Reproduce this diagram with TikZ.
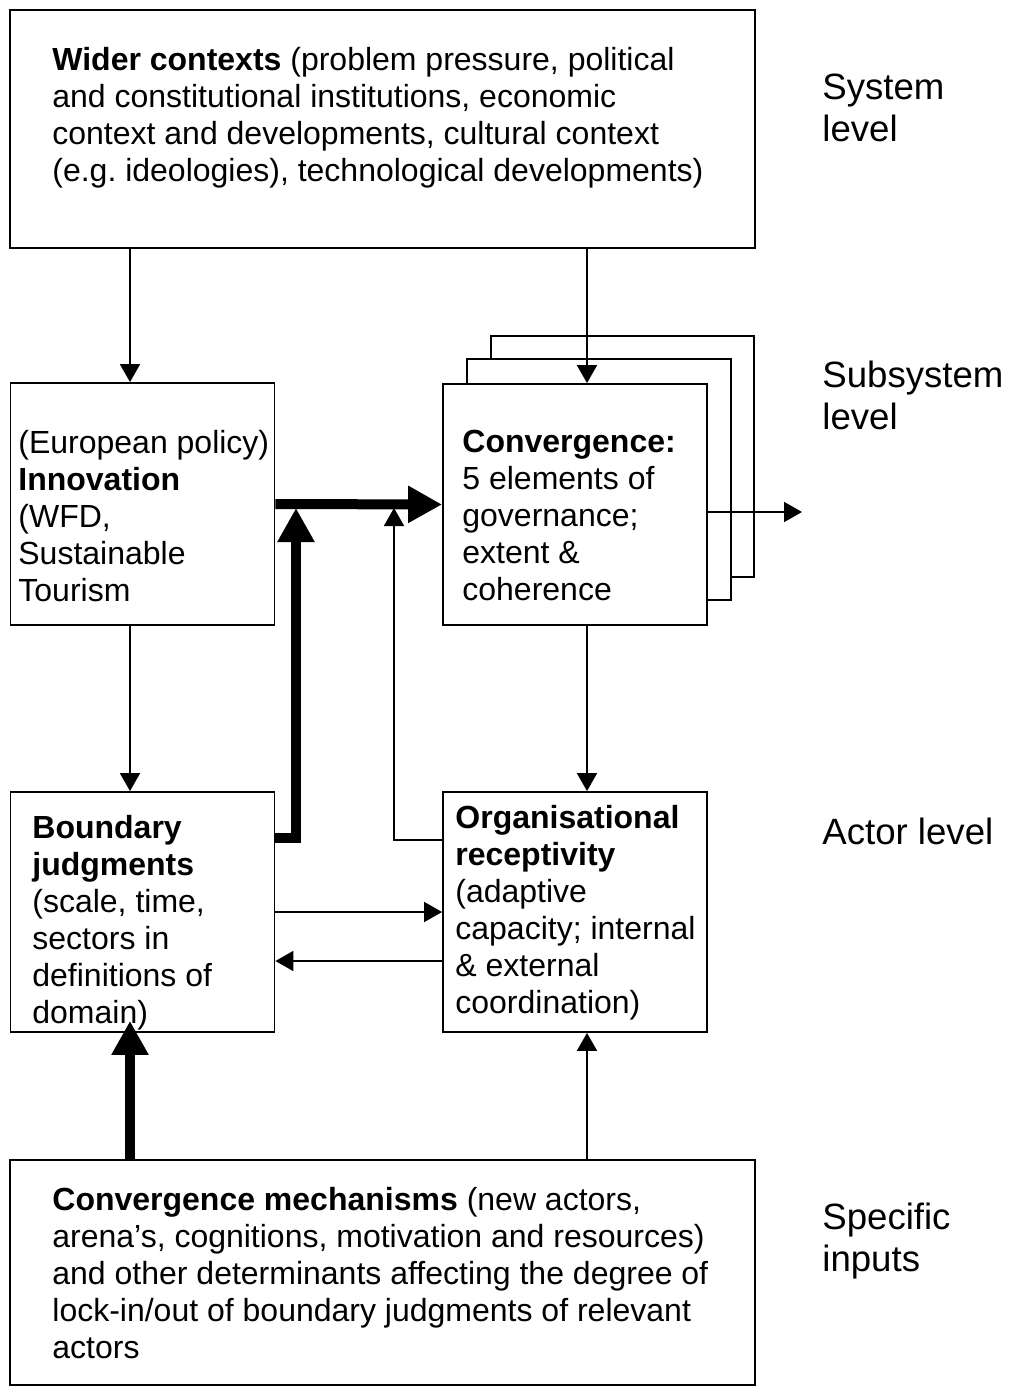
\documentclass[tikz,border=0pt]{standalone}
\usepackage{fontspec}
\setmainfont{Liberation Sans}
\usepackage{tikz}
\usetikzlibrary{arrows.meta}
\tikzset{
	box/.style={draw,line width=0.9pt,fill=white,inner sep=0pt},
	boxtext/.style={anchor=north west,inner sep=0pt,align=left,
		font=\fontsize{16}{18.5}\selectfont},
	levelnote/.style={anchor=north west,inner sep=0pt,align=left,
		font=\fontsize{18.3}{21}\selectfont},
	thin arrow/.style={line width=0.9pt,-{Triangle[length=9pt,width=10pt]}},
	thick arrow/.style={line width=5pt,-{Triangle[length=17pt,width=17.5pt]}}
}

\begin{document}
\begin{tikzpicture}[x=0.5pt,y=-0.5pt]
	\useasboundingbox (0,0) rectangle (1009,1396);
	% boxes
	\node [box,minimum width=372.5pt,minimum height=119pt] (wider) at (382.5,129) {};
	\node [box,minimum width=132pt,minimum height=121pt] (inno) at (142.5,504) {};
	\node [box,minimum width=131.5pt,minimum height=120.5pt] (conv3) at (622.5,456.5) {};
	\node [box,minimum width=132pt,minimum height=120.5pt] (conv2) at (599,479.5) {};
	\node [box,minimum width=132pt,minimum height=120.5pt] (conv) at (575,504.5) {};
	\node [box,minimum width=132pt,minimum height=120pt] (bound) at (142.5,912) {};
	\node [box,minimum width=132pt,minimum height=120pt] (org) at (575,912) {};
	\node [box,minimum width=372.5pt,minimum height=112.5pt] (mech) at (382.5,1272.5) {};
	% texts
	\node [boxtext] (widertxt) at (52,47) {\textbf{Wider contexts} (problem pressure, political\\
		and constitutional institutions, economic\\
		context and developments, cultural context\\
		(e.g.\ ideologies), technological developments)};
	\node [boxtext] (innotxt) at (18,430) {(European policy)\\ \textbf{Innovation}\\ (WFD,\\ Sustainable\\ Tourism};
	\node [boxtext] (convtxt) at (462,430) {\textbf{Convergence:}\\ 5 elements of\\ governance;\\ extent \&\\ coherence};
	\node [boxtext] (boundtxt) at (32,815) {\textbf{Boundary}\\ \textbf{judgments}\\ (scale, time,\\ sectors in\\ definitions of\\ domain)};
	\node [boxtext] (orgtxt) at (455,805) {\textbf{Organisational}\\ \textbf{receptivity}\\ (adaptive\\ capacity; internal\\ \& external\\ coordination)};
	\node [boxtext] (mechtxt) at (52,1187) {\textbf{Convergence mechanisms} (new actors,\\
		arena's, cognitions, motivation and resources)\\
		and other determinants affecting the degree of\\
		lock-in/out of boundary judgments of relevant\\
		actors};
	% levels
	\node [levelnote] (sys) at (822,74) {System\\ level};
	\node [levelnote] (subsys) at (822,361) {Subsystem\\ level};
	\node [levelnote] (actor) at (822,818) {Actor level};
	\node [levelnote] (spec) at (822,1203) {Specific\\ inputs};
	% helper points
	\coordinate (colL) at (130,0);
	\coordinate (colR) at (587,0);
	\coordinate (jA) at (296,508);
	\coordinate (jB) at (296,838);
	\coordinate (kA) at (394,508);
	\coordinate (kB) at (394,840);
	\coordinate (r1) at (0,961);
	\coordinate (out) at (802,512);
	% connectors
	\draw [thin arrow] (wider.south -| colL) -- (inno.north -| colL);
	\draw [thin arrow] (wider.south -| colR) -- (conv.north -| colR);
	\draw [thin arrow] (inno.south -| colL) -- (bound.north -| colL);
	\draw [thin arrow] (conv.south -| colR) -- (org.north -| colR);
	\draw [thin arrow] (conv.east |- out) -- (out);
	\draw [thin arrow] (org.west |- kB) -- (kB) -- (kA);
	\draw [thick arrow] (inno.east) -- (conv.west);
	\draw [thick arrow] (bound.east |- jB) -- (jB) -- (jA);
	\draw [thin arrow] (bound.east) -- (org.west);
	\draw [thin arrow] (org.west |- r1) -- (bound.east |- r1);
	\draw [thick arrow,shorten >=-6pt] (mech.north -| colL) -- (bound.south -| colL);
	\draw [thin arrow] (mech.north -| colR) -- (org.south -| colR);
\end{tikzpicture}
\end{document}
